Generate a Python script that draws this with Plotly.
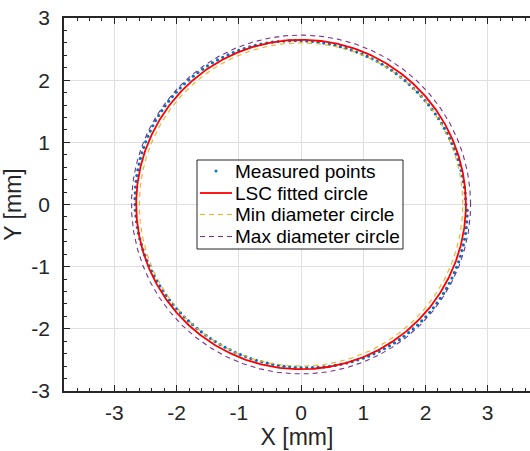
import numpy as np
import plotly.graph_objects as go

# ---- data ----
meas_angle_deg = list(range(0, 360, 2))
meas_radius = [
    2.650, 2.647, 2.644, 2.640, 2.636, 2.633, 2.630, 2.627, 2.624, 2.621,
    2.618, 2.615, 2.613, 2.611, 2.609, 2.607, 2.605, 2.604, 2.602, 2.601,
    2.601, 2.600, 2.600, 2.600, 2.600, 2.601, 2.601, 2.602, 2.603, 2.604,
    2.605, 2.606, 2.607, 2.608, 2.609, 2.610, 2.612, 2.614, 2.616, 2.618,
    2.620, 2.622, 2.625, 2.628, 2.631, 2.634, 2.637, 2.640, 2.644, 2.648,
    2.652, 2.656, 2.660, 2.664, 2.667, 2.670, 2.673, 2.676, 2.679, 2.682,
    2.685, 2.687, 2.689, 2.691, 2.693, 2.695, 2.696, 2.698, 2.699, 2.699,
    2.700, 2.700, 2.700, 2.700, 2.699, 2.699, 2.698, 2.696, 2.695, 2.693,
    2.691, 2.689, 2.687, 2.685, 2.682, 2.680, 2.677, 2.675, 2.672, 2.670,
    2.668, 2.665, 2.662, 2.659, 2.656, 2.653, 2.650, 2.646, 2.643, 2.640,
    2.636, 2.633, 2.630, 2.627, 2.624, 2.621, 2.618, 2.615, 2.613, 2.611,
    2.609, 2.607, 2.605, 2.604, 2.602, 2.601, 2.601, 2.600, 2.600, 2.600,
    2.600, 2.601, 2.601, 2.602, 2.603, 2.604, 2.605, 2.607, 2.608, 2.610,
    2.612, 2.614, 2.616, 2.618, 2.621, 2.624, 2.627, 2.630, 2.634, 2.638,
    2.642, 2.646, 2.650, 2.654, 2.658, 2.662, 2.666, 2.670, 2.673, 2.676,
    2.679, 2.682, 2.685, 2.687, 2.689, 2.691, 2.693, 2.695, 2.696, 2.698,
    2.699, 2.699, 2.700, 2.700, 2.700, 2.700, 2.699, 2.699, 2.698, 2.696,
    2.695, 2.693, 2.691, 2.689, 2.687, 2.685, 2.682, 2.679, 2.676, 2.673,
]

lsc_center = (0.0, 0.0)
lsc_radius = 2.65
min_center = (0.0, 0.0)
min_radius = 2.60
max_center = (0.0, 0.0)
max_radius = 2.725

series_names = ["Measured points", "LSC fitted circle",
                "Min diameter circle", "Max diameter circle"]
series_colors = ["#0072BD", "#FF0000", "#EDB120", "#7E2F8E"]

tick_vals = [-3, -2, -1, 0, 1, 2, 3]
tick_text = ["-3", "-2", "-1", "0", "1", "2", "3"]

# ---- layout geometry (pixels) ----
W, H = 530, 451
ML, MR, MT, MB = 64, 0, 18, 60
PW, PH = W - ML - MR, H - MT - MB


def px(x):
    return (x - ML) / PW


def py(y):
    return (H - MB - y) / PH


# ---- build ----
th_m = np.deg2rad(np.array(meas_angle_deg, dtype=float))
r_m = np.array(meas_radius)
mx = r_m * np.cos(th_m)
my = r_m * np.sin(th_m)

t = np.linspace(0, 2 * np.pi, 721)


def circle(c, r):
    return c[0] + r * np.cos(t), c[1] + r * np.sin(t)


lx, ly = circle(lsc_center, lsc_radius)
nx, ny = circle(min_center, min_radius)
ax_, ay_ = circle(max_center, max_radius)

DASH = "5px,4px"
fig = go.Figure()
fig.add_trace(go.Scatter(x=mx, y=my, mode="markers", name=series_names[0],
                         marker=dict(color=series_colors[0], size=3.2)))
fig.add_trace(go.Scatter(x=lx, y=ly, mode="lines", name=series_names[1],
                         line=dict(color=series_colors[1], width=1.8)))
fig.add_trace(go.Scatter(x=nx, y=ny, mode="lines", name=series_names[2],
                         line=dict(color=series_colors[2], width=1.1, dash=DASH)))
fig.add_trace(go.Scatter(x=ax_, y=ay_, mode="lines", name=series_names[3],
                         line=dict(color=series_colors[3], width=1.1, dash=DASH)))

axcol = "#262626"
font = "Liberation Sans, Arial, sans-serif"
common = dict(
    showgrid=True, gridcolor="#dfdfdf", gridwidth=1,
    zeroline=False, showline=True, linecolor=axcol, linewidth=1.6,
    ticks="inside", ticklen=6, tickwidth=1.3, tickcolor=axcol,
    tickvals=tick_vals, ticktext=tick_text,
    tickfont=dict(family=font, size=21, color=axcol),
    minor=dict(ticks="inside", ticklen=3, tickwidth=1.2, tickcolor=axcol,
               dtick=0.2, showgrid=False),
)

# ---- hand-drawn legend box (MATLAB style, compact rows) ----
LX0, LX1, LY0, LY1 = 197, 403, 160, 249
row_y = [171, 193, 214.5, 236.5]
shapes = [dict(type="rect", xref="paper", yref="paper",
               x0=px(LX0), x1=px(LX1), y0=py(LY1), y1=py(LY0),
               line=dict(color=axcol, width=1), fillcolor="white", layer="above")]
annotations = []
for i, (name, col) in enumerate(zip(series_names, series_colors)):
    yy = row_y[i]
    if i == 0:
        shapes.append(dict(type="circle", xref="paper", yref="paper",
                           x0=px(214.5), x1=px(217.5), y0=py(yy + 1.5), y1=py(yy - 1.5),
                           line=dict(width=0), fillcolor=col, layer="above"))
    else:
        shapes.append(dict(type="line", xref="paper", yref="paper",
                           x0=px(200), x1=px(232), y0=py(yy), y1=py(yy),
                           line=dict(color=col, width=1.8 if i == 1 else 1.1,
                                     dash="solid" if i == 1 else DASH),
                           layer="above"))
    annotations.append(dict(text=name, xref="paper", yref="paper",
                            x=px(234), y=py(yy), xanchor="left", yanchor="middle",
                            showarrow=False, borderpad=0,
                            font=dict(family=font, size=19, color="#000000")))

fig.update_layout(
    width=W, height=H,
    margin=dict(l=ML, r=MR, t=MT, b=MB),
    paper_bgcolor="white", plot_bgcolor="white",
    xaxis=dict(range=[-3.81, 3.68], mirror="ticks",
               title=dict(text="X [mm]", font=dict(family=font, size=23, color=axcol),
                          standoff=4),
               ticklabelstandoff=2, **common),
    yaxis=dict(range=[-3, 3],
               title=dict(text="Y [mm]", font=dict(family=font, size=23, color=axcol),
                          standoff=4),
               ticklabelstandoff=8, **common),
    shapes=shapes,
    annotations=annotations,
    showlegend=False,
)

fig.write_html("out.html")
